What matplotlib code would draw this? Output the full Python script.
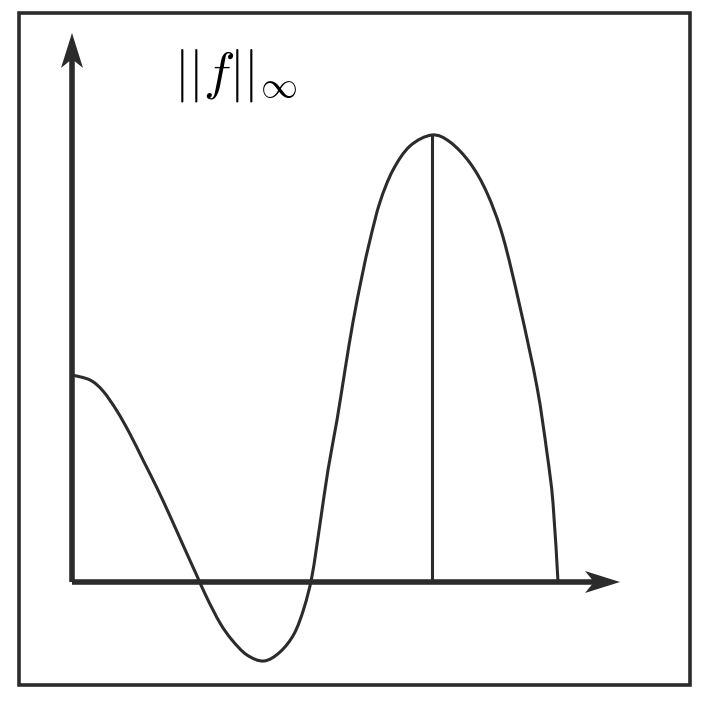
import matplotlib
matplotlib.use('Agg')
import matplotlib.pyplot as plt
from matplotlib.patches import Polygon, Rectangle, PathPatch
from matplotlib.path import Path

plt.rcParams['mathtext.fontset'] = 'cm'

# curve samples (origin at the axes corner)
x_vals = [0.00, 0.18, 0.31, 0.45, 0.58, 0.71, 0.85, 0.98, 1.11, 1.25,
          1.35, 1.48, 1.60, 1.75, 1.92, 2.08, 2.22, 2.32, 2.40, 2.48,
          2.56, 2.65, 2.73, 2.81, 2.90, 2.98, 3.08, 3.21, 3.38, 3.60,
          3.78, 3.98, 4.15, 4.31, 4.48, 4.65, 4.75, 4.81, 4.86]
y_vals = [2.07, 2.02, 1.91, 1.71, 1.48, 1.22, 0.94, 0.66, 0.37, 0.06,
          -0.16, -0.41, -0.58, -0.73, -0.79, -0.70, -0.52, -0.26, 0.06, 0.58,
          1.12, 1.62, 2.12, 2.60, 3.06, 3.42, 3.80, 4.12, 4.36, 4.47,
          4.40, 4.19, 3.89, 3.45, 2.75, 1.95, 1.29, 0.79, 0.00]
peak_x = 3.60
peak_y = 4.47
x_axis_end = 5.48
y_axis_end = 5.49
label = r'$||f||_\infty$'

col = '#2b2b2b'


def smooth_path(xs, ys):
    # catmull-rom through the read points, drawn as cubic beziers
    pts = list(zip(xs, ys))
    verts = [pts[0]]
    codes = [Path.MOVETO]
    n = len(pts)
    for i in range(n - 1):
        p0 = pts[max(i - 1, 0)]
        p1 = pts[i]
        p2 = pts[i + 1]
        p3 = pts[min(i + 2, n - 1)]
        c1 = (p1[0] + (p2[0] - p0[0]) / 6, p1[1] + (p2[1] - p0[1]) / 6)
        c2 = (p2[0] - (p3[0] - p1[0]) / 6, p2[1] - (p3[1] - p1[1]) / 6)
        verts += [c1, c2, p2]
        codes += [Path.CURVE4] * 3
    return Path(verts, codes)


fig = plt.figure(figsize=(7.09, 7.09), dpi=100)
ax = fig.add_axes([0, 0, 1, 1])
ax.set_xlim(-0.72, 6.37)
ax.set_ylim(-1.27, 5.82)
ax.axis('off')

# frame round the whole picture
fig.patches.append(Rectangle((0.027, 0.034), 0.946, 0.948, transform=fig.transFigure,
                             fill=False, ec=col, lw=2.6))

# axes with arrow heads
hl, hw, ind = 0.35, 0.11, 0.26
ax.plot([0, 0], [0, y_axis_end - ind], color=col, lw=4.0, solid_capstyle='butt')
ax.plot([0, x_axis_end - ind], [0, 0], color=col, lw=4.0, solid_capstyle='butt')
ax.add_patch(Polygon([(0, y_axis_end), (hw, y_axis_end - hl), (0, y_axis_end - ind),
                      (-hw, y_axis_end - hl)], closed=True, color=col, lw=0))
ax.add_patch(Polygon([(x_axis_end, 0), (x_axis_end - hl, hw), (x_axis_end - ind, 0),
                      (x_axis_end - hl, -hw)], closed=True, color=col, lw=0))

# function and its max
ax.add_patch(PathPatch(smooth_path(x_vals, y_vals), fill=False, ec=col, lw=2.2,
                       joinstyle='round'))
ax.plot([peak_x, peak_x], [0, peak_y], color=col, lw=2.2)

ax.text(1.64, 5.07, label, fontsize=38, ha='center', va='center', color='black')

fig.savefig('out.png', dpi=100)
